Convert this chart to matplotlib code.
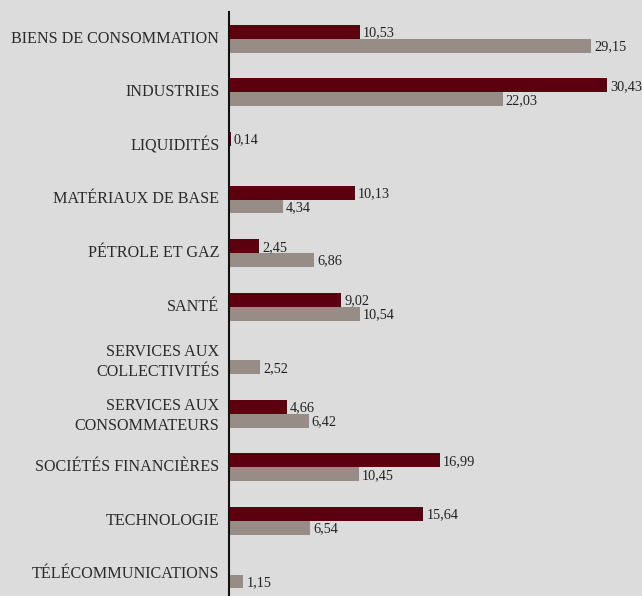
import matplotlib.pyplot as plt
import numpy as np

categories = ["BIENS DE CONSOMMATION", "INDUSTRIES", "LIQUIDITÉS", "MATÉRIAUX DE BASE",
              "PÉTROLE ET GAZ", "SANTÉ", "SERVICES AUX\nCOLLECTIVITÉS",
              "SERVICES AUX\nCONSOMMATEURS", "SOCIÉTÉS FINANCIÈRES", "TECHNOLOGIE",
              "TÉLÉCOMMUNICATIONS"]
serie_1 = [10.53, 30.43, 0.14, 10.13, 2.45, 9.02, None, 4.66, 16.99, 15.64, None]
serie_2 = [29.15, 22.03, None, 4.34, 6.86, 10.54, 2.52, 6.42, 10.45, 6.54, 1.15]

red = '#5c0010'
grey = '#988c87'
bg = '#dcdcdc'

plt.rcParams['font.family'] = ['Liberation Serif', 'DejaVu Serif']

fig = plt.figure(figsize=(6.42, 5.96), dpi=100, facecolor=bg)
ax = fig.add_axes([229 / 642, 0, 1 - 229 / 642, 1 - 12 / 596])
ax.set_facecolor(bg)

y = np.arange(len(categories))
h = 0.26


def fmt(v):
    return f"{v:.2f}".replace('.', ',')


for vals, off, col in [(serie_1, -h / 2, red), (serie_2, h / 2, grey)]:
    for i, v in enumerate(vals):
        if v is None:
            continue
        ax.barh(y[i] + off, v, height=h, color=col)
        ax.text(v + 0.25, y[i] + off + 0.02, fmt(v), va='center', ha='left',
                fontsize=10.3, color='#222222')

ax.set_xlim(0, 33.25)
ax.set_ylim(10.4, -0.5)
ax.set_yticks(y - 0.04)
ax.set_yticklabels(categories, fontsize=11.6, color='#2a2a2a', ha='right',
                   linespacing=1.35)
ax.tick_params(axis='y', length=0, pad=7)
ax.set_xticks([])
for s in ['top', 'right', 'bottom']:
    ax.spines[s].set_visible(False)
ax.spines['left'].set_linewidth(1.5)
ax.spines['left'].set_color('#111111')

fig.savefig('out.png', dpi=100, facecolor=bg)
